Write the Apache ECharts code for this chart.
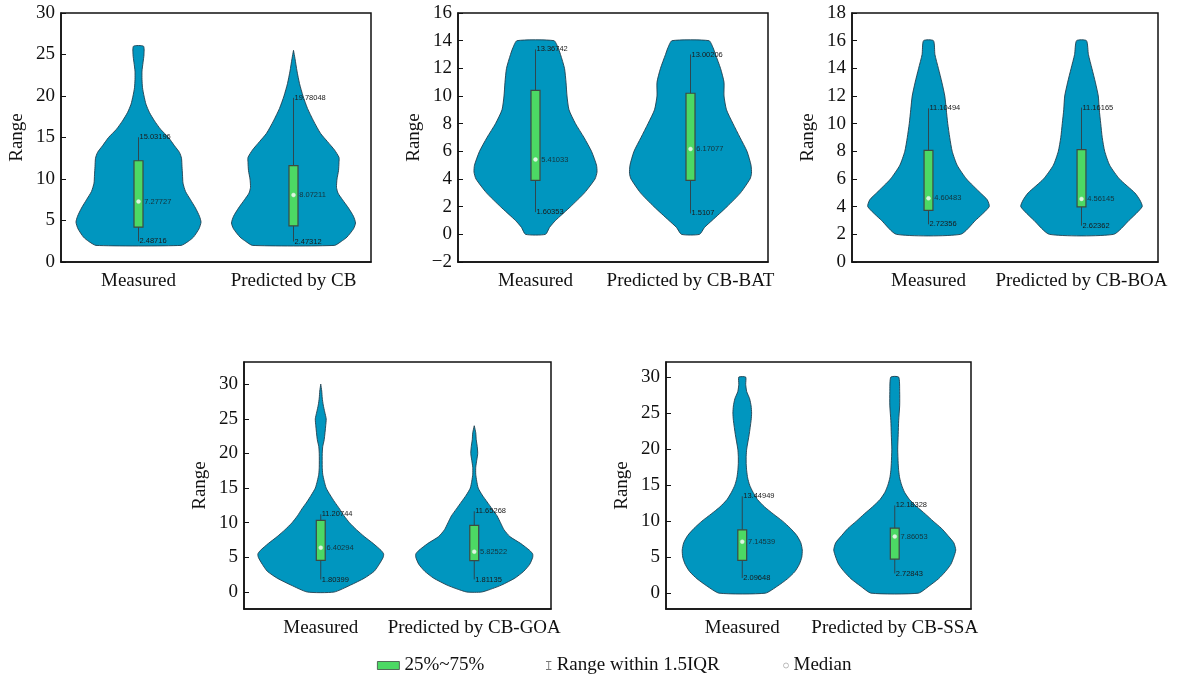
<!DOCTYPE html>
<html><head><meta charset="utf-8">
<script src="https://cdn.jsdelivr.net/npm/echarts@6/dist/echarts.min.js"></script>
<style>html,body{margin:0;padding:0;background:#fff}#chart{width:1189px;height:676px}</style>
</head><body><div id="chart"></div>
<script>
// ---------- categories ----------
const catsCB  = ['Measured', 'Predicted by CB'];
const catsBAT = ['Measured', 'Predicted by CB-BAT'];
const catsBOA = ['Measured', 'Predicted by CB-BOA'];
const catsGOA = ['Measured', 'Predicted by CB-GOA'];
const catsSSA = ['Measured', 'Predicted by CB-SSA'];

// ---------- y tick labels ----------
const ticksCB  = [0, 5, 10, 15, 20, 25, 30];
const ticksBAT = [-2, 0, 2, 4, 6, 8, 10, 12, 14, 16];
const ticksBOA = [0, 2, 4, 6, 8, 10, 12, 14, 16, 18];
const ticksGOA = [0, 5, 10, 15, 20, 25, 30];
const ticksSSA = [0, 5, 10, 15, 20, 25, 30];

// ---------- violin density profiles: [value, relative density width] ----------
const violinCB_meas = [[2,85],[2.5,100],[3,110],[4,121],[4.8,125],[5.5,122],[6.5,114],[7.5,104],[8.5,94],[9.5,89],[10.5,88],[11.5,87],[12.5,86],[13.2,82],[14,72],[15,60],[16,44],[17,32],[18,22],[19,15],[20,11],[21,8],[22,7],[23,7],[24,9],[25,11],[26,10]];
const violinCB_pred = [[2,82],[2.5,96],[3,107],[4,120],[4.7,124],[5.5,120],[6.5,110],[7.5,98],[8.3,89],[9,86],[10,87],[11,90],[12,91],[12.6,91],[13.5,82],[14.5,68],[15.5,54],[17,40],[18.5,28],[20,19],[21.5,12],[23,7],[24.5,3],[25.5,0]];
const violinBAT_meas = [[0,20],[0.5,28],[1,40],[2,70],[3,98],[4,119],[4.5,123],[5,122],[6,112],[7,97],[8,80],[9,67],[10,63],[11,61],[12,58],[13,50],[13.5,45],[14,37]];
const violinBAT_pred = [[0,18],[0.5,28],[1,43],[2,73],[3,100],[4,119],[4.4,122],[5,121],[6,113],[7,99],[8,85],[9,72],[10,67],[11,67],[12,60],[13,50],[13.5,45],[14,37]];
const violinBOA_meas = [[2,65],[3,95],[4,123],[4.5,119],[5,105],[6,77],[7,58],[8,48],[9,43],[10,39],[11,36],[12,33],[13,27],[14,20],[15,13],[16,10]];
const violinBOA_pred = [[2,65],[3,96],[4,123],[4.5,118],[5,108],[6,77],[7,57],[8,47],[9,42],[10,39],[11,36],[12,34],[13,28],[14,21],[15,14],[16,10]];
const violinGOA_meas = [[0,27],[1,60],[2,88],[3,108],[4,118],[5,126],[5.5,127],[6,122],[7,106],[8,88],[9,72],[10,58],[11,47],[12,38],[13,28],[14,19],[15,11],[16,7],[17,4],[18,3],[20,3],[21,4],[22,7],[24,10],[25,11],[26,8],[27,5],[28,3],[29,2],[30,0]];
const violinGOA_pred = [[0,15],[0.5,37],[1,55],[2,82],[3,100],[4,112],[5,118],[5.5,118],[6,112],[7,94],[8,72],[9,60],[10,53],[11,46],[12,36],[13,26],[14,16],[15,8],[16,5],[17,3],[18,3],[19,5],[20,7],[21,6],[22,4],[23,3],[24,0]];
const violinSSA_meas = [[0,47],[1,72],[2,92],[3,107],[4,116],[5,121],[6,122],[7,119],[8,111],[9,98],[10,82],[11,63],[12,45],[13,31],[14,22],[15,15],[16,11],[17,9],[18,8],[19,8],[20,9],[22,14],[24,18],[25,19],[26,18],[27,15],[28,9],[29,7],[30,7]];
const violinSSA_pred = [[0,48],[1,70],[2,89],[3,103],[4,114],[5,120],[6,124],[7,120],[8,108],[9,95],[10,78],[11,62],[12,45],[13,30],[14,20],[15,14],[16,10],[17,8],[18,7],[20,6],[22,7],[24,8],[26,10],[28,10],[30,8]];

// ---------- box statistics: [whisker low, Q1, median, Q3, whisker high] ----------
const boxCB_meas  = [2.48716, 4.2, 7.27727, 12.2, 15.03196];
const boxCB_pred  = [2.47312, 4.35, 8.07211, 11.6, 19.78048];
const boxBAT_meas = [1.60353, 3.9, 5.41033, 10.4, 13.36742];
const boxBAT_pred = [1.5107, 3.9, 6.17077, 10.2, 13.00206];
const boxBOA_meas = [2.72356, 3.73, 4.60483, 8.07, 11.10494];
const boxBOA_pred = [2.62362, 3.98, 4.56145, 8.12, 11.16165];
const boxGOA_meas = [1.80399, 4.57, 6.40294, 10.34, 11.20744];
const boxGOA_pred = [1.81135, 4.52, 5.82522, 9.62, 11.65268];
const boxSSA_meas = [2.09648, 4.54, 7.14539, 8.8, 13.44949];
const boxSSA_pred = [2.72843, 4.72, 7.86053, 9.03, 12.18328];

// ---------- assembly ----------
const panels = [
  {cats: catsCB,  ticks: ticksCB,  min: 0,     max: 30,   violins: [violinCB_meas,  violinCB_pred],  boxes: [boxCB_meas,  boxCB_pred]},
  {cats: catsBAT, ticks: ticksBAT, min: -2,    max: 16,   violins: [violinBAT_meas, violinBAT_pred], boxes: [boxBAT_meas, boxBAT_pred]},
  {cats: catsBOA, ticks: ticksBOA, min: 0,     max: 18,   violins: [violinBOA_meas, violinBOA_pred], boxes: [boxBOA_meas, boxBOA_pred]},
  {cats: catsGOA, ticks: ticksGOA, min: -2.45, max: 33.2, violins: [violinGOA_meas, violinGOA_pred], boxes: [boxGOA_meas, boxGOA_pred]},
  {cats: catsSSA, ticks: ticksSSA, min: -2.2,  max: 32.1, violins: [violinSSA_meas, violinSSA_pred], boxes: [boxSSA_meas, boxSSA_pred]}
];
const layout = [
  {left: 61,  top: 13,  width: 310, height: 249, xMargin: 10},
  {left: 458, top: 13,  width: 310, height: 249, xMargin: 10},
  {left: 852, top: 13,  width: 306, height: 249, xMargin: 10},
  {left: 244, top: 362, width: 307, height: 247, xMargin: 10},
  {left: 666, top: 362, width: 305, height: 247, xMargin: 10}
];

const SERIF = '"Liberation Serif", "Times New Roman", serif';
const SANS = '"Liberation Sans", Arial, sans-serif';
const DENSITY_REF = 155;   // density units per category band
const BOX_FRAC = 9 / 155;  // box width as fraction of band
const VIOLIN = '#0096bf';
const GREEN = '#4cd964';

const grids = [], xAxes = [], yAxes = [], series = [];
panels.forEach((p, i) => {
  const L = layout[i];
  grids.push({left: L.left, top: L.top, width: L.width, height: L.height, show: true,
    borderColor: '#111', borderWidth: 1.5, backgroundColor: 'transparent'});
  xAxes.push({type: 'category', gridIndex: i, data: p.cats, boundaryGap: true,
    axisLine: {onZero: false, lineStyle: {color: '#111', width: 1.5}},
    axisTick: {inside: true, alignWithLabel: true, length: 6, lineStyle: {color: '#111', width: 1}},
    axisLabel: {interval: 0, margin: L.xMargin, fontFamily: SERIF, fontSize: 19, color: '#111'},
    splitLine: {show: false}});
  yAxes.push({type: 'value', gridIndex: i, min: p.min, max: p.max,
    name: 'Range', nameLocation: 'middle', nameGap: 34,
    nameTextStyle: {fontFamily: SERIF, fontSize: 19, color: '#111'},
    axisLine: {show: true, onZero: false, lineStyle: {color: '#111', width: 1.5}},
    axisTick: {show: true, inside: true, length: 5, customValues: p.ticks, lineStyle: {color: '#111', width: 1}},
    axisLabel: {margin: 6, fontFamily: SERIF, fontSize: 19, color: '#111', customValues: p.ticks,
      formatter: v => String(v).replace('-', '\u2212')},
    splitLine: {show: false}});

  // violins
  series.push({type: 'custom', name: 'violin', xAxisIndex: i, yAxisIndex: i, silent: true, z: 1,
    data: p.violins.map((v, k) => [k]),
    encode: {x: 0},
    renderItem: (params, api) => {
      const k = api.value(0);
      const prof = p.violins[k];
      const band = api.size([1, 0])[0];
      const s = band / DENSITY_REF;
      const left = [], right = [];
      prof.forEach(([v, w]) => {
        const c = api.coord([k, v]);
        const hw = w * s / 2;
        left.push([c[0] - hw, c[1]]);
        right.unshift([c[0] + hw, c[1]]);
      });
      return {type: 'polygon', shape: {points: left.concat(right), smooth: 0.2},
        style: {fill: VIOLIN, stroke: '#1f4050', lineWidth: 0.9}};
    }});

  // whiskers
  series.push({type: 'custom', name: 'Range within 1.5IQR', xAxisIndex: i, yAxisIndex: i, z: 2,
    itemStyle: {color: '#777'},
    data: p.boxes.map((b, k) => [k, b[0], b[4]]),
    encode: {x: 0, y: [1, 2]},
    renderItem: (params, api) => {
      const k = api.value(0);
      const lo = api.coord([k, api.value(1)]);
      const hi = api.coord([k, api.value(2)]);
      const txt = (y, t) => ({type: 'text', x: lo[0] + 1, y: y,
        style: {text: t, fill: '#1a1a1a', fontFamily: SANS, fontSize: 7.5, align: 'left', verticalAlign: 'middle'}});
      return {type: 'group', children: [
        {type: 'line', shape: {x1: lo[0], y1: lo[1], x2: hi[0], y2: hi[1]}, style: {stroke: '#2e4650', lineWidth: 1}},
        txt(hi[1], String(api.value(2))),
        txt(lo[1], String(api.value(1)))
      ]};
    }});

  // boxes
  series.push({type: 'custom', name: '25%~75%', xAxisIndex: i, yAxisIndex: i, z: 3,
    itemStyle: {color: GREEN},
    data: p.boxes.map((b, k) => [k, b[1], b[3]]),
    encode: {x: 0, y: [1, 2]},
    renderItem: (params, api) => {
      const k = api.value(0);
      const q1 = api.coord([k, api.value(1)]);
      const q3 = api.coord([k, api.value(2)]);
      const w = api.size([1, 0])[0] * BOX_FRAC;
      return {type: 'rect', shape: {x: q1[0] - w / 2, y: q3[1], width: w, height: q1[1] - q3[1]},
        style: {fill: GREEN, stroke: '#3d4a42', lineWidth: 1.2}};
    }});

  // medians
  series.push({type: 'scatter', name: 'Median', xAxisIndex: i, yAxisIndex: i, z: 4,
    symbol: 'circle', symbolSize: 4,
    itemStyle: {color: '#ffffff', borderColor: '#e8e8e8', borderWidth: 0.5},
    data: p.boxes.map((b, k) => [k, b[2]]),
    label: {show: true, position: 'right', distance: 3.5, fontFamily: SANS, fontSize: 7.5, color: '#1a1a1a',
      formatter: d => String(d.value[1])},
    emphasis: {disabled: true}});
});

const legendText = {fontFamily: SERIF, fontSize: 19, color: '#111'};
const option = {
  animation: false,
  backgroundColor: '#ffffff',
  grid: grids, xAxis: xAxes, yAxis: yAxes, series: series,
  legend: [
    {data: [{name: '25%~75%', icon: 'rect', itemStyle: {color: GREEN, borderColor: '#3d4a42', borderWidth: 0.8}}],
     left: 372, top: 651, itemWidth: 22, itemHeight: 8, selectedMode: false, textStyle: legendText},
    {data: [{name: 'Range within 1.5IQR', icon: 'path://M0,0H6V1H3.5V9H6V10H0V9H2.5V1H0Z', itemStyle: {color: '#777'}}],
     left: 541, top: 651, itemWidth: 6, itemHeight: 9, selectedMode: false, textStyle: legendText},
    {data: [{name: 'Median', icon: 'circle', itemStyle: {color: '#fff', borderColor: '#aaa', borderWidth: 1}}],
     left: 778, top: 651, itemWidth: 5, itemHeight: 5, selectedMode: false, textStyle: legendText}
  ]
};
const chart = echarts.init(document.getElementById('chart'), null, {renderer: 'canvas'});
chart.setOption(option);
</script></body></html>
